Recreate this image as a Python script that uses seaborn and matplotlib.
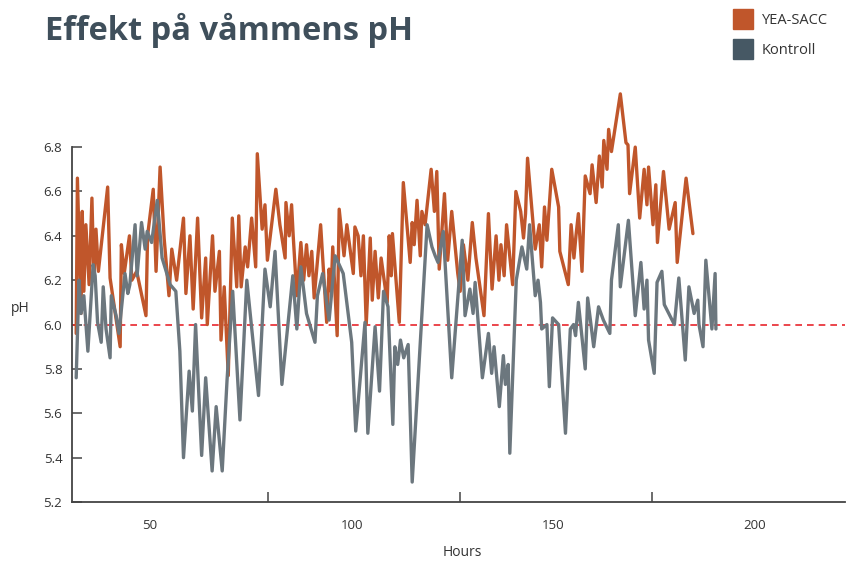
import matplotlib
matplotlib.use("Agg")
import matplotlib.pyplot as plt
from matplotlib.lines import Line2D
import pandas as pd
import seaborn as sns

# values
yea_hours = [31.7, 32.0, 32.9, 33.2, 33.6, 34.1, 34.9, 35.6, 36.1, 36.6, 37.2, 39.5, 40.1, 42.6, 42.9,
             43.6, 44.9, 45.5, 46.7, 49.0, 49.4, 50.8, 51.5, 52.5, 53.5, 54.7, 55.4, 56.6, 57.4, 58.3,
             58.9, 59.9, 60.7, 61.8, 62.8, 63.8, 64.2, 65.5, 66.1, 67.2, 67.6, 68.4, 69.4, 70.4, 71.5,
             72.0, 72.6, 73.6, 74.2, 75.2, 76.2, 76.6, 77.8, 78.5, 79.1, 81.2, 82.2, 83.5, 83.7, 84.5,
             85.1, 85.5, 86.4, 87.4, 88.1, 88.8, 89.4, 90.1, 90.7, 92.3, 93.8, 94.4, 94.9, 95.3, 96.4,
             96.9, 98.1, 98.8, 100.4, 100.8, 101.6, 102.3, 102.9, 103.6, 104.6, 105.1, 105.8, 106.6, 107.3,
             108.8, 109.3, 109.8, 110.1, 111.8, 112.8, 114.5, 115.0, 115.5, 116.2, 117.0, 117.4, 118.2,
             119.7, 120.5, 121.1, 121.7, 123.0, 123.8, 124.8, 126.3, 126.9, 127.7, 128.8, 129.9, 130.8,
             132.8, 133.9, 134.8, 135.8, 136.5, 137.0, 137.8, 138.4, 139.9, 140.7, 141.9, 142.6, 143.1,
             143.6, 145.5, 146.5, 147.1, 147.8, 148.4, 149.6, 151.3, 151.6, 153.7, 154.4, 155.1, 155.6,
             156.2, 157.1, 157.9, 159.1, 159.6, 160.6, 161.4, 162.1, 162.5, 163.3, 163.7, 164.4, 166.6,
             168.0, 168.5, 168.9, 170.3, 171.4, 172.5, 173.2, 173.6, 174.7, 175.4, 175.8, 177.3, 178.7,
             180.2, 180.7, 182.9, 184.6]
yea_ph = [5.96, 6.66, 6.05, 6.51, 6.15, 6.45, 6.18, 6.57, 6.20, 6.43, 6.24, 6.62, 6.21, 5.90, 6.36,
          6.23, 6.40, 6.20, 6.24, 6.04, 6.40, 6.61, 6.24, 6.71, 6.39, 6.13, 6.34, 6.20, 6.33, 6.48,
          6.14, 6.40, 6.07, 6.48, 6.03, 6.30, 6.00, 6.40, 6.15, 6.33, 5.93, 6.17, 5.77, 6.48, 6.17,
          6.49, 6.17, 6.35, 6.26, 6.48, 6.26, 6.77, 6.43, 6.54, 6.29, 6.61, 6.45, 6.30, 6.55, 6.40,
          6.54, 6.40, 6.13, 6.37, 6.20, 6.36, 6.22, 6.33, 6.12, 6.45, 6.01, 6.25, 6.15, 6.35, 5.95,
          6.52, 6.31, 6.45, 6.23, 6.44, 6.40, 6.22, 6.40, 6.00, 6.39, 6.11, 6.33, 6.12, 6.30,
          6.10, 6.40, 6.22, 6.41, 6.01, 6.64, 6.28, 6.46, 6.36, 6.56, 6.31, 6.51, 6.45,
          6.70, 6.51, 6.69, 6.25, 6.59, 6.29, 6.51, 6.23, 6.15, 6.36, 6.20, 6.46, 6.30,
          6.04, 6.50, 6.16, 6.40, 6.20, 6.36, 6.22, 6.45, 6.18, 6.60, 6.51, 6.39, 6.50,
          6.75, 6.34, 6.45, 6.26, 6.53, 6.38, 6.70, 6.53, 6.33, 6.18, 6.45, 6.30, 6.40,
          6.50, 6.24, 6.67, 6.59, 6.72, 6.55, 6.76, 6.62, 6.83, 6.70, 6.88, 6.78, 7.04,
          6.82, 6.81, 6.59, 6.80, 6.48, 6.70, 6.54, 6.71, 6.45, 6.63, 6.37, 6.69, 6.43,
          6.55, 6.28, 6.66, 6.41]

kontroll_hours = [31.7, 32.4, 32.9, 33.6, 34.6, 35.9, 36.4, 37.0, 37.9, 38.4, 39.1, 40.1, 40.4, 41.6,
                  42.3, 43.8, 44.5, 45.0, 46.3, 46.8, 47.9, 48.8, 49.3, 50.4, 51.8, 53.0, 55.0, 56.4,
                  57.4, 58.3, 59.7, 60.5, 61.3, 62.8, 63.8, 65.4, 66.4, 67.9, 69.1, 70.5, 72.3, 74.0,
                  76.9, 78.5, 79.8, 81.0, 82.7, 85.4, 86.4, 87.4, 88.8, 90.9, 91.5, 92.8, 94.4, 95.9,
                  97.9, 100.0, 101.0, 103.3, 104.0, 105.8, 106.9, 107.9, 109.0, 110.2, 110.7, 111.4,
                  112.1, 112.9, 114.0, 115.0, 118.7, 119.9, 120.7, 121.4, 122.7, 124.8, 127.4, 128.1,
                  129.3, 130.1, 130.6, 132.4, 133.9, 134.7, 135.3, 136.6, 137.6, 138.1, 138.8, 139.2,
                  140.8, 142.2, 143.4, 144.1, 145.5, 146.2, 146.8, 147.1, 148.4, 149.0, 149.8, 151.3,
                  153.0, 154.2, 155.0, 155.5, 156.2, 157.9, 158.5, 160.0, 161.2, 162.4, 164.0, 164.4,
                  166.1, 166.6, 168.6, 170.3, 171.7, 172.5, 173.2, 173.6, 175.0, 175.7, 176.9, 177.5,
                  180.0, 181.1, 182.7, 183.6, 184.9, 185.8, 186.1, 187.1, 187.8, 189.3, 190.1, 190.3]
kontroll_ph = [5.76, 6.20, 6.05, 6.13, 5.88, 6.27, 6.22, 6.01, 5.92, 6.17, 5.98, 5.85, 6.13, 6.04,
               5.96, 6.23, 6.14, 6.18, 6.45, 6.22, 6.46, 6.34, 6.42, 6.37, 6.56, 6.30, 6.18, 6.15,
               5.88, 5.40, 5.79, 5.61, 6.00, 5.41, 5.76, 5.34, 5.63, 5.34, 5.75, 6.15, 5.57, 6.20,
               5.68, 6.25, 6.08, 6.33, 5.73, 6.22, 5.98, 6.26, 6.05, 5.92, 6.13, 6.23, 6.02, 6.31,
               6.23, 5.92, 5.52, 6.01, 5.51, 5.99, 5.70, 6.15, 6.08, 5.55, 5.90, 5.82,
               5.93, 5.85, 5.91, 5.29, 6.45, 6.35, 6.31, 6.28, 6.42, 5.76, 6.38, 6.04,
               6.16, 6.05, 6.19, 5.76, 5.96, 5.78, 5.90, 5.63, 5.86, 5.73, 5.82, 5.42,
               6.20, 6.35, 6.25, 6.45, 6.13, 6.20, 6.10, 5.98, 6.00, 5.72, 6.03, 6.00,
               5.51, 5.98, 6.00, 5.95, 6.10, 5.80, 6.12, 5.90, 6.08, 6.02, 5.96, 6.20,
               6.45, 6.17, 6.47, 6.04, 6.28, 6.07, 6.20, 5.93, 5.78, 6.19, 6.24, 6.09,
               6.00, 6.21, 5.84, 6.17, 6.05, 6.11, 6.00, 5.90, 6.29, 5.98, 6.23, 5.98]

series_names = ['YEA-SACC', 'Kontroll']
line_colors = {'YEA-SACC': '#c0562b', 'Kontroll': '#6c777e'}
legend_colors = ['#c0562b', '#465864']
y_ticks = [5.2, 5.4, 5.6, 5.8, 6.0, 6.2, 6.4, 6.6, 6.8]
x_ticks = [50, 100, 150, 200]
x_minor_ticks = [79.3, 126.9, 174.5]
threshold = 6.0

df = pd.concat([
    pd.DataFrame({'hours': yea_hours, 'ph': yea_ph, 'serie': series_names[0]}),
    pd.DataFrame({'hours': kontroll_hours, 'ph': kontroll_ph, 'serie': series_names[1]}),
])

sns.set_theme(style='white')
plt.rcParams['font.family'] = ['Open Sans', 'DejaVu Sans']

W, H = 846, 561
fig = plt.figure(figsize=(W / 100, H / 100), dpi=100)
ax = fig.add_axes([72 / W, (H - 502) / H, (845 - 72) / W, (502 - 85) / H])

sns.lineplot(data=df, x='hours', y='ph', hue='serie', hue_order=series_names,
             palette=line_colors, estimator=None, sort=False, linewidth=2.4,
             legend=False, ax=ax)
ax.axhline(threshold, color='#e8262d', linestyle=(0, (4, 3)), linewidth=1.2, zorder=1)

ax.set_xlim(30.66, 222.3)
ax.set_ylim(5.2, 7.08)
ax.set_xlabel('')
ax.set_ylabel('')

ax.set_yticks(y_ticks)
ax.set_yticklabels([f'{t:.1f}' for t in y_ticks])
ax.set_xticks(x_ticks)
ax.set_xticks(x_minor_ticks, minor=True)
ax.tick_params(axis='x', which='major', length=0, pad=12, labelsize=9.5, labelcolor='#333333')
ax.tick_params(axis='x', which='minor', direction='in', length=7, width=1.1, color='#444444', bottom=True)
ax.tick_params(axis='y', direction='in', length=7, width=1.1, color='#444444', pad=7,
               labelsize=9.5, labelcolor='#333333', left=True)

for side in ['top', 'right']:
    ax.spines[side].set_visible(False)
for side in ['left', 'bottom']:
    ax.spines[side].set_color('#444444')
    ax.spines[side].set_linewidth(1.3)
ax.spines['left'].set_bounds(5.2, 6.8)

fig.text(45 / W, 1 - 40 / H, 'Effekt på våmmens pH', fontsize=23.5, fontweight='bold',
         color='#3f4f5b', va='baseline', ha='left')
fig.text(20 / W, 1 - 308 / H, 'pH', fontsize=10, color='#333333', ha='center', va='center')
fig.text(462 / W, 1 - 553 / H, 'Hours', fontsize=10, color='#333333', ha='center', va='center')

handles = [Line2D([], [], marker='s', linestyle='none', markersize=15, color=c) for c in legend_colors]
fig.legend(handles, series_names, loc='upper left', bbox_to_anchor=(728 / W, 1 - 7 / H),
           frameon=False, fontsize=10.5, handlelength=1.2, handletextpad=0.7, labelspacing=1.05,
           borderaxespad=0, labelcolor='#333333')

fig.savefig('out.png', dpi=100)
